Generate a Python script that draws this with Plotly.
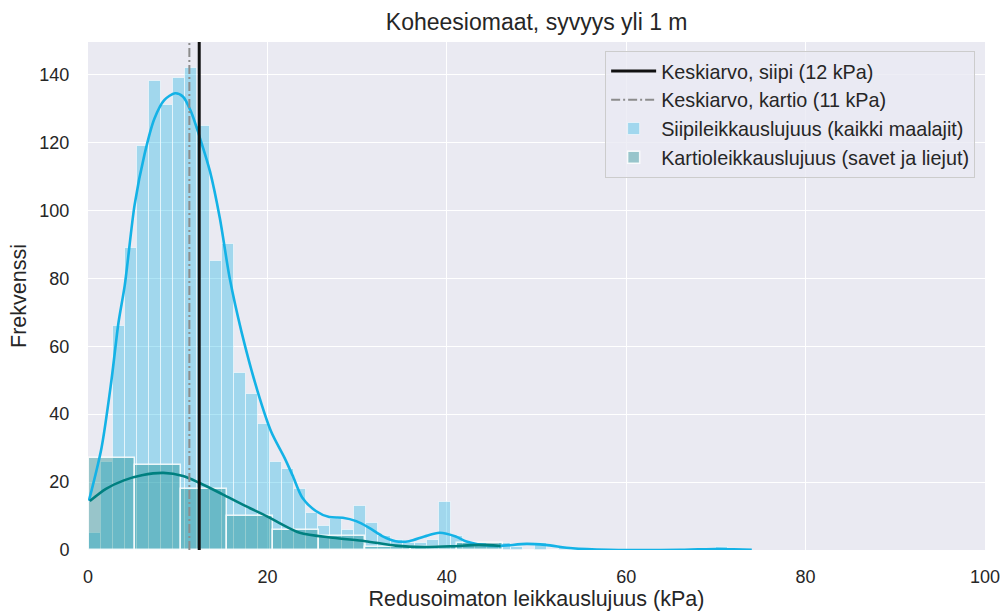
import plotly.graph_objects as go

# Undrained shear strength histograms (cohesive soils, depth > 1 m)
siipi_bin_start = 0.1
siipi_bin_width = 1.345
siipi_counts = [5, 26, 66, 89, 119, 138, 131, 139, 142, 125, 85, 90, 52, 46, 37,
                26, 24, 18, 11, 7, 9, 6, 13, 8, 4, 3, 2, 2, 3, 14, 4, 2, 2, 1,
                2, 1, 0, 2, 0, 1, 0, 0, 0, 0, 0, 0, 0, 0, 0, 0, 0, 0, 1]

kartio_bin_start = 0.1
kartio_bin_width = 5.135
kartio_counts = [27, 25, 18, 10, 6, 4, 1, 1, 2]

# Kernel density estimates scaled to counts
siipi_kde_x = [0.1, 1.5, 2.6, 3.4, 4.1, 5.2, 6.3, 7.4, 8.5, 9.7, 10.6, 11.5, 12.4,
               13.6, 14.7, 15.8, 17.1, 18.9, 20.4, 21.9, 22.8, 23.9, 25.4, 26.9,
               28.4, 29.9, 31.3, 32.8, 34.3, 35.8, 37.5, 39.2, 41.0, 42.1, 44.0,
               45.8, 48.9, 51.0, 54.0, 58.0, 62.0, 66.0, 68.0, 70.0, 72.0, 74.0]
siipi_kde_y = [14.5, 30, 49.7, 67, 78, 101.7, 116.5, 127, 132.5, 134.5, 133.5, 129,
               122, 111.5, 97.7, 80, 64.4, 46.8, 35, 27.2, 22, 15.4, 11.5, 9.7,
               9.5, 8.5, 6.6, 4.1, 2.6, 2.6, 4.0, 5.1, 4.0, 2.6, 1.5, 1.2, 1.8,
               1.5, 0.5, 0.05, 0.0, 0.05, 0.2, 0.3, 0.2, 0.05]

kartio_kde_x = [0.2, 2.0, 4.0, 6.0, 8.4, 10.6, 12.4, 15.0, 17.6, 19.9, 21.3,
                23.6, 27.3, 30.9, 34.3, 37.5, 40.5, 43.5, 46.0]
kartio_kde_y = [14.4, 18.0, 20.5, 22.0, 22.7, 21.8, 19.8, 16.4, 12.9, 10.0,
                8.0, 5.1, 3.6, 2.6, 1.3, 0.9, 1.1, 1.5, 1.2]

mean_siipi = 12.4
mean_kartio = 11.3

y_max = 149.6

def bin_centers(start, width, n):
    return [start + width * (i + 0.5) for i in range(n)]

BG = "#EAEAF2"
TEXT = "#262626"
SIIPI = "rgb(20,178,230)"
SIIPI_FILL = "rgba(20,178,230,0.34)"
KARTIO = "rgb(0,128,128)"
KARTIO_FILL = "rgba(0,128,128,0.35)"

fig = go.Figure()

fig.add_trace(go.Bar(
    x=bin_centers(siipi_bin_start, siipi_bin_width, len(siipi_counts)),
    y=siipi_counts,
    width=[siipi_bin_width] * len(siipi_counts),
    marker=dict(color=SIIPI_FILL, line=dict(color="rgba(255,255,255,0.55)", width=1)),
    name="Siipileikkauslujuus (kaikki maalajit)",
    legendrank=3,
))

fig.add_trace(go.Bar(
    x=bin_centers(kartio_bin_start, kartio_bin_width, len(kartio_counts)),
    y=kartio_counts,
    width=[kartio_bin_width] * len(kartio_counts),
    marker=dict(color=KARTIO_FILL, line=dict(color="rgba(255,255,255,0.85)", width=1.5)),
    name="Kartioleikkauslujuus (savet ja liejut)",
    legendrank=4,
))

fig.add_trace(go.Scatter(
    x=siipi_kde_x, y=siipi_kde_y, mode="lines",
    line=dict(color=SIIPI, width=2.6, shape="spline", smoothing=0.8),
    showlegend=False, hoverinfo="skip",
))

fig.add_trace(go.Scatter(
    x=kartio_kde_x, y=kartio_kde_y, mode="lines",
    line=dict(color=KARTIO, width=2.6, shape="spline", smoothing=0.8),
    showlegend=False, hoverinfo="skip",
))

fig.add_trace(go.Scatter(
    x=[mean_kartio, mean_kartio], y=[0, y_max], mode="lines",
    line=dict(color="#8C8C8C", width=2, dash="9px,3px,2px,3px"),
    name=f"Keskiarvo, kartio ({round(mean_kartio)} kPa)",
    legendrank=2,
))

fig.add_trace(go.Scatter(
    x=[mean_siipi, mean_siipi], y=[0, y_max], mode="lines",
    line=dict(color="#111111", width=3),
    name=f"Keskiarvo, siipi ({round(mean_siipi)} kPa)",
    legendrank=1,
))

fig.update_layout(
    width=1005, height=613,
    margin=dict(l=88, r=20, t=42, b=63),
    paper_bgcolor="white",
    plot_bgcolor=BG,
    barmode="overlay",
    bargap=0,
    font=dict(family="Liberation Sans, Arial, sans-serif", color=TEXT, size=18),
    title=dict(
        text="Koheesiomaat, syvyys yli 1 m",
        x=0.534, xanchor="center", xref="container",
        y=1 - 22 / 613, yanchor="middle", yref="container",
        font=dict(size=23, color=TEXT),
    ),
    legend=dict(
        x=0.989, xanchor="right", y=0.983, yanchor="top",
        bgcolor="rgba(234,234,242,0.8)",
        bordercolor="#CCCCCC", borderwidth=1,
        font=dict(size=19.8, color=TEXT),
        itemwidth=45,
        tracegroupgap=0,
    ),
    showlegend=True,
)

fig.update_xaxes(
    range=[0, 100],
    tickvals=[0, 20, 40, 60, 80, 100],
    showgrid=True, gridcolor="white", gridwidth=1.3,
    zeroline=False, showline=False,
    ticks="outside", ticklen=10, tickcolor="rgba(0,0,0,0)",
    tickfont=dict(size=18, color=TEXT),
    title=dict(text="Redusoimaton leikkauslujuus (kPa)", font=dict(size=21.5, color=TEXT), standoff=4),
    automargin=False,
)

fig.update_yaxes(
    range=[0, y_max],
    tickvals=[0, 20, 40, 60, 80, 100, 120, 140],
    showgrid=True, gridcolor="white", gridwidth=1.3,
    zeroline=False, showline=False,
    ticks="outside", ticklen=14, tickcolor="rgba(0,0,0,0)",
    tickfont=dict(size=18, color=TEXT),
    title=dict(text="Frekvenssi", font=dict(size=21.5, color=TEXT), standoff=6),
    automargin=False,
)

fig.write_html("out.html")
